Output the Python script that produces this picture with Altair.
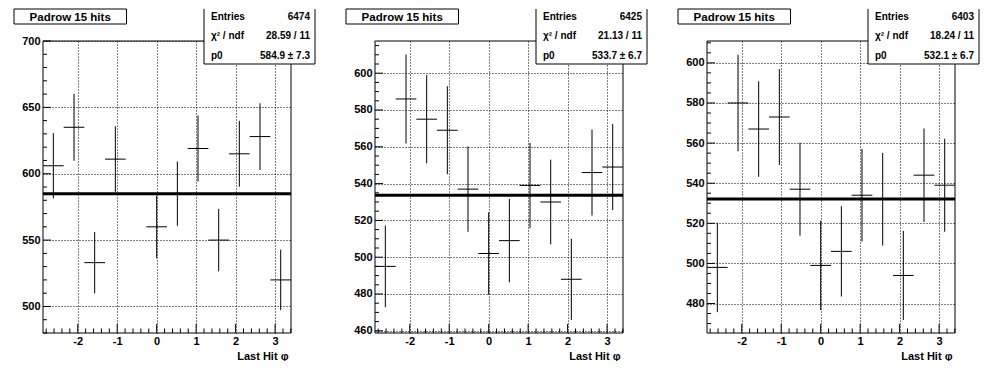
import numpy as np
import pandas as pd
import altair as alt

# ---------------- data ----------------
BIN_CENTERS = [-2.618, -2.094, -1.571, -1.047, -0.524, 0.0,
               0.524, 1.047, 1.571, 2.094, 2.618, 3.142]
BIN_WIDTH = 0.5236
X_DOMAIN = [-2.880, 3.403]
X_MAJOR = [-2, -1, 0, 1, 2, 3]

P1_VALUES = [606, 635, 533, 611, 12, 560, 585, 619, 550, 615, 628, 520]
P1_ERRORS = [24.6, 25.2, 23.1, 24.7, 3.5, 23.7, 24.2, 24.9, 23.5, 24.8, 25.1, 22.8]
P2_VALUES = [495, 586, 575, 569, 537, 502, 509, 539, 530, 488, 546, 549]
P2_ERRORS = [22.2, 24.2, 24.0, 23.9, 23.2, 22.4, 22.6, 23.2, 23.0, 22.1, 23.4, 23.4]
P3_VALUES = [498, 580, 567, 573, 537, 499, 506, 534, 532, 494, 544, 539]
P3_ERRORS = [22.3, 24.1, 23.8, 23.9, 23.2, 22.3, 22.5, 23.1, 23.1, 22.2, 23.3, 23.2]

PANEL_TITLES = ["Padrow 15 hits", "Padrow 15 hits", "Padrow 15 hits"]
ENTRIES = [6474, 6425, 6403]
CHI2 = ["28.59", "21.13", "18.24"]
NDF = [11, 11, 11]
P0 = [584.9, 533.7, 532.1]
P0_ERR = [7.3, 6.7, 6.7]

Y_DOMAINS = [[480, 700], [458.8, 617.5], [465.3, 610.9]]
Y_MAJOR = [[500, 550, 600, 650, 700],
           [460, 480, 500, 520, 540, 560, 580, 600],
           [480, 500, 520, 540, 560, 580, 600]]
Y_MINOR_STEP = [10, 5, 5]
X_MINOR_STEP = 0.2

VALUES = [P1_VALUES, P2_VALUES, P3_VALUES]
ERRORS = [P1_ERRORS, P2_ERRORS, P3_ERRORS]

# ---------------- style ----------------
FONT = "Liberation Sans"
STAT_FONT = "Liberation Sans Narrow, Liberation Sans"
W, H = 248, 292
ONE = pd.DataFrame({"k": [0]})


def panel(i):
    df = pd.DataFrame({"c": BIN_CENTERS, "v": VALUES[i], "e": ERRORS[i]})
    df["lo"] = df["c"] - BIN_WIDTH / 2
    df["hi"] = df["c"] + BIN_WIDTH / 2
    df["vlo"] = df["v"] - df["e"]
    df["vhi"] = df["v"] + df["e"]

    xscale = alt.Scale(domain=X_DOMAIN, nice=False, zero=False)
    yscale = alt.Scale(domain=Y_DOMAINS[i], nice=False, zero=False)
    common = dict(grid=True, gridColor="black", gridDash=[1, 2], gridOpacity=1,
                  gridWidth=1, ticks=False, tickSize=0, domain=False,
                  labelFont=FONT, labelFontSize=11, labelFontWeight="bold",
                  labelColor="black", labelFlush=False, labelOverlap=False)
    xaxis = alt.Axis(values=X_MAJOR, labelPadding=2,
                     labelExpr="replace(datum.label, '\u2212', '-')",
                     title="Last Hit \u03c6", titleFont=FONT, titleFontSize=11,
                     titleFontWeight="bold", titleColor="black",
                     titleX=W - 3, titleY=26, titleAlign="right",
                     titleBaseline="alphabetic", **common)
    yaxis = alt.Axis(values=Y_MAJOR[i], labelPadding=3, title=None, **common)

    def X(f):
        return alt.X(f, type="quantitative", scale=xscale, axis=xaxis)

    def Y(f):
        return alt.Y(f, type="quantitative", scale=yscale, axis=yaxis)

    vbars = alt.Chart(df).mark_rule(color="black", strokeWidth=1, clip=True).encode(
        x=X("c"), y=Y("vlo"), y2="vhi")
    hbars = alt.Chart(df).mark_rule(color="black", strokeWidth=1, clip=True).encode(
        x=X("lo"), x2="hi", y=Y("v"))
    fit = alt.Chart(pd.DataFrame({"p0": [P0[i]]})).mark_rule(
        color="black", strokeWidth=3).encode(
        x=alt.value(0), x2=alt.value(W), y=Y("p0"))

    x_minor = [round(t, 2) for t in np.arange(-2.8, 3.41, X_MINOR_STEP)
               if abs(t - round(t)) > 1e-6]
    lo, hi = Y_DOMAINS[i]
    step = Y_MINOR_STEP[i]
    y_minor = [t for t in np.arange(np.ceil(lo / step) * step, hi + 1e-6, step)
               if t not in Y_MAJOR[i]]

    xmaj = alt.Chart(pd.DataFrame({"t": X_MAJOR})).mark_rule(color="black").encode(
        x=X("t"), y=alt.value(H), y2=alt.value(H - 9))
    xmin = alt.Chart(pd.DataFrame({"t": x_minor})).mark_rule(color="black").encode(
        x=X("t"), y=alt.value(H), y2=alt.value(H - 4.5))
    ymaj = alt.Chart(pd.DataFrame({"t": Y_MAJOR[i]})).mark_rule(color="black").encode(
        y=Y("t"), x=alt.value(0), x2=alt.value(8))
    ymin = alt.Chart(pd.DataFrame({"t": y_minor})).mark_rule(color="black").encode(
        y=Y("t"), x=alt.value(0), x2=alt.value(4))

    frame = alt.Chart(ONE).mark_rect(fillOpacity=0, stroke="black", strokeWidth=1).encode(
        x=alt.value(0), x2=alt.value(W), y=alt.value(0), y2=alt.value(H))

    # stats box
    bx0, bx1, by0, by1 = 161, 272, -32, 23
    sbox = alt.Chart(ONE).mark_rect(fill="white", strokeWidth=0).encode(
        x=alt.value(bx0), x2=alt.value(bx1), y=alt.value(by0), y2=alt.value(by1))
    sl = alt.Chart(ONE).mark_rule(color="black").encode(
        x=alt.value(bx0), y=alt.value(by0), y2=alt.value(by1))
    sr = alt.Chart(ONE).mark_rule(color="black").encode(
        x=alt.value(bx1), y=alt.value(by0), y2=alt.value(by1))
    sb = alt.Chart(ONE).mark_rule(color="black").encode(
        x=alt.value(bx0), x2=alt.value(bx1), y=alt.value(by1))

    def stat(txt, x, y, align):
        return alt.Chart(ONE).mark_text(
            text=txt, font=STAT_FONT, fontSize=10, fontWeight="bold", color="black",
            align=align, baseline="alphabetic").encode(x=alt.value(x), y=alt.value(y))

    rows = [("Entries", f"{ENTRIES[i]}"),
            ("\u03c7\u00b2 / ndf", f"{CHI2[i]} / {NDF[i]}"),
            ("p0", f"{P0[i]:.1f} \u00b1 {P0_ERR[i]:.1f}")]
    ys = [-21.5, -2.5, 17.5]
    stats = []
    for (lab, val), yy in zip(rows, ys):
        stats.append(stat(lab, 168, yy, "left"))
        stats.append(stat(val, 267, yy, "right"))

    # title box
    tbox = alt.Chart(ONE).mark_rect(fill="white", stroke="black", strokeWidth=1).encode(
        x=alt.value(-29), x2=alt.value(83.5), y=alt.value(-32), y2=alt.value(-17))
    ttxt = alt.Chart(ONE).mark_text(
        text=PANEL_TITLES[i], font=FONT, fontSize=11.5, fontWeight="bold",
        color="black", align="center", baseline="alphabetic").encode(
        x=alt.value(27.2), y=alt.value(-20.5))

    return alt.layer(vbars, hbars, fit, xmaj, xmin, ymaj, ymin, frame,
                     sbox, sl, sr, sb, *stats, tbox, ttxt).properties(width=W, height=H)


chart = alt.hconcat(panel(0), panel(1), panel(2), spacing=84, bounds="flush").resolve_scale(
    x="independent", y="independent").properties(
    padding={"left": 5, "right": 5, "top": 0, "bottom": 0}).configure_view(strokeOpacity=0)

chart.save("out.html", embed_options={"renderer": "svg", "actions": False})
